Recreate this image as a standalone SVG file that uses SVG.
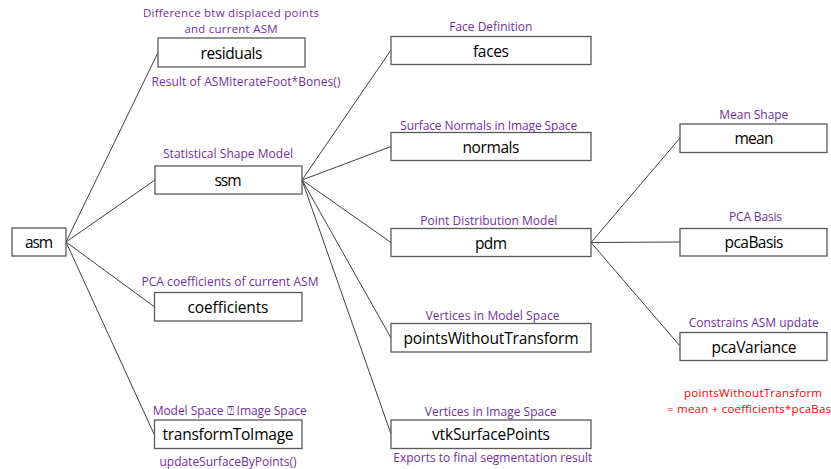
<svg xmlns="http://www.w3.org/2000/svg" width="831" height="469" viewBox="0 0 831 469">
<style>
.box{fill:#fff;stroke:#595959;stroke-width:1.3}
.nt{font-family:"Open Sans","Noto Sans",sans-serif;font-size:15.5px;fill:#000;text-anchor:middle}
.lb{font-family:"Open Sans","Noto Sans",sans-serif;font-size:12px;fill:#7030A0;text-anchor:middle}
.sm{font-size:11.5px}
.rd{font-family:"Open Sans","Noto Sans",sans-serif;font-size:11.5px;fill:#FF0000;text-anchor:middle}
.ln{stroke:#404040;stroke-width:1;fill:none}
</style>
<rect width="831" height="469" fill="#fff"/>
<g id="connectors">
<line class="ln" x1="66" y1="242" x2="158" y2="52.5"/>
<line class="ln" x1="66" y1="242" x2="155" y2="180"/>
<line class="ln" x1="66" y1="242" x2="154" y2="306.5"/>
<line class="ln" x1="66" y1="242" x2="154" y2="434"/>
<line class="ln" x1="302" y1="180" x2="391" y2="50"/>
<line class="ln" x1="302" y1="180" x2="391" y2="146.5"/>
<line class="ln" x1="302" y1="180" x2="391" y2="242.5"/>
<line class="ln" x1="302" y1="180" x2="391" y2="338"/>
<line class="ln" x1="302" y1="180" x2="391" y2="434"/>
<line class="ln" x1="591" y1="242.5" x2="680" y2="138"/>
<line class="ln" x1="591" y1="242.5" x2="680" y2="242"/>
<line class="ln" x1="591" y1="242.5" x2="680" y2="346"/>
</g>
<g id="asm">
<rect class="box" x="12" y="228" width="54" height="28"/>
<text class="nt" x="39" y="247.5" textLength="28">asm</text>
</g>
<g id="residuals">
<text class="lb sm" x="231" y="16.5" textLength="176">Difference btw displaced points</text>
<text class="lb sm" x="231" y="32.5" textLength="93">and current ASM</text>
<rect class="box" x="158" y="38" width="147" height="29"/>
<text class="nt" x="231.5" y="58.5" textLength="62">residuals</text>
<text class="lb" x="246" y="86" textLength="189">Result of ASMiterateFoot*Bones()</text>
</g>
<g id="ssm">
<text class="lb" x="228" y="158" textLength="130">Statistical Shape Model</text>
<rect class="box" x="155" y="166" width="147" height="28"/>
<text class="nt" x="228" y="185.5" textLength="27">ssm</text>
</g>
<g id="coefficients">
<text class="lb" x="230" y="286" textLength="177">PCA coefficients of current ASM</text>
<rect class="box" x="154.5" y="292.5" width="147.5" height="28.5"/>
<text class="nt" x="228" y="312.5" textLength="81">coefficients</text>
</g>
<g id="transformToImage">
<text class="lb" x="229.7" y="415" textLength="154">Model Space ⍰ Image Space</text>
<rect class="box" x="154.5" y="420" width="147.5" height="28.5"/>
<text class="nt" x="228" y="440" textLength="131">transformToImage</text>
<text class="lb" x="228" y="465.5" textLength="137">updateSurfaceByPoints()</text>
</g>
<g id="faces">
<text class="lb" x="490.8" y="30.5" textLength="83">Face Definition</text>
<rect class="box" x="391" y="36.5" width="200" height="28"/>
<text class="nt" x="491" y="56.5" textLength="36">faces</text>
</g>
<g id="normals">
<text class="lb" x="488.7" y="130" textLength="177">Surface Normals in Image Space</text>
<rect class="box" x="391" y="132.5" width="200" height="28"/>
<text class="nt" x="491" y="152.5" textLength="57">normals</text>
</g>
<g id="pdm">
<text class="lb" x="488.7" y="225" textLength="137">Point Distribution Model</text>
<rect class="box" x="391" y="228.5" width="200" height="28"/>
<text class="nt" x="491" y="248.5" textLength="32">pdm</text>
</g>
<g id="pointsWithoutTransform">
<text class="lb" x="492.5" y="320" textLength="134">Vertices in Model Space</text>
<rect class="box" x="391" y="323.5" width="200" height="28.5"/>
<text class="nt" x="491" y="344" textLength="175">pointsWithoutTransform</text>
</g>
<g id="vtkSurfacePoints">
<text class="lb" x="490.8" y="416" textLength="132">Vertices in Image Space</text>
<rect class="box" x="391" y="420" width="200" height="28.5"/>
<text class="nt" x="491" y="440" textLength="118">vtkSurfacePoints</text>
<text class="lb" x="492.8" y="461.5" textLength="199">Exports to final segmentation result</text>
</g>
<g id="mean">
<text class="lb" x="753.8" y="118.5" textLength="69">Mean Shape</text>
<rect class="box" x="680" y="124" width="147" height="28.5"/>
<text class="nt" x="754" y="144" textLength="39">mean</text>
</g>
<g id="pcaBasis">
<text class="lb" x="755.5" y="221" textLength="53">PCA Basis</text>
<rect class="box" x="680" y="228.5" width="147" height="27.5"/>
<text class="nt" x="754" y="248" textLength="59">pcaBasis</text>
</g>
<g id="pcaVariance">
<text class="lb" x="753.7" y="326.5" textLength="130">Constrains ASM update</text>
<rect class="box" x="680" y="332.5" width="147" height="28"/>
<text class="nt" x="754" y="352.5" textLength="85">pcaVariance</text>
</g>
<g id="note">
<text class="rd" x="753" y="397" textLength="138">pointsWithoutTransform</text>
<text class="rd" x="749" y="413" textLength="164">= mean + coefficients*pcaBas</text>
</g>
</svg>
